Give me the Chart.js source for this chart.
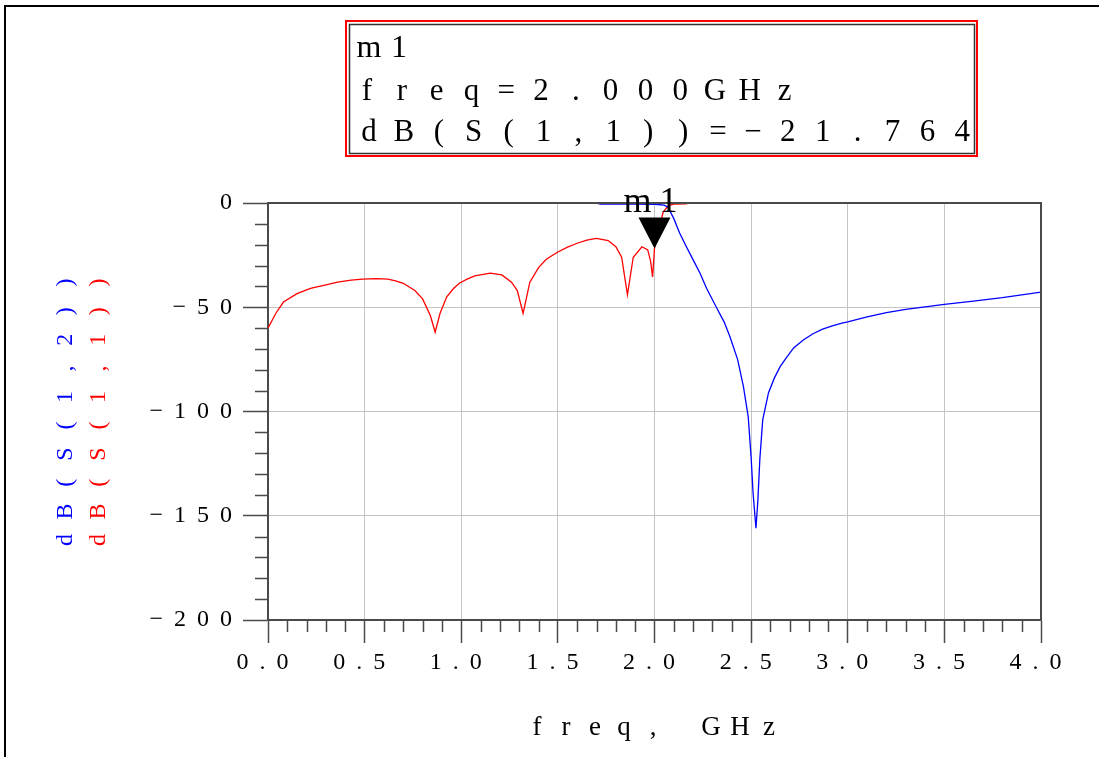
<!DOCTYPE html>
<html>
<head>
<meta charset="utf-8">
<script src="https://cdn.jsdelivr.net/npm/chart.js@4.4.1/dist/chart.umd.min.js"></script>
<style>
  html, body { margin: 0; padding: 0; background: #fff; }
  canvas { display: block; }
</style>
</head>
<body>
<canvas id="chart" width="1099" height="757"></canvas>
<script>
// dB(S(1,1)) - red trace
const s11Freq = [0, 0.04, 0.08, 0.15, 0.22, 0.30, 0.36, 0.43, 0.49, 0.56, 0.62, 0.66, 0.70, 0.76, 0.80,
  0.84, 0.865, 0.89, 0.925, 0.96, 0.99, 1.03, 1.07, 1.15, 1.21, 1.26, 1.29, 1.32, 1.355, 1.40, 1.44,
  1.50, 1.55, 1.60, 1.65, 1.70, 1.76, 1.80, 1.83, 1.86, 1.89, 1.935, 1.965, 1.98, 1.99, 2.0, 2.02,
  2.045, 2.07, 2.08, 2.1, 2.16, 2.18, 2.5, 3.0, 3.5, 4.0];
const s11Db = [-60, -53, -47.5, -43.5, -41, -39.3, -38, -37, -36.5, -36.3, -36.5, -37.3, -38.5, -42, -46,
  -54, -62, -53, -45, -41, -38.5, -36.5, -35, -33.6, -34.5, -38, -42, -53, -38, -31, -27,
  -23.5, -21.2, -19.3, -17.8, -17, -18, -21, -26, -44, -26, -21, -22.5, -28, -35.5, -21.764, -13,
  -4.3, -1.5, -1, -0.5, -0.4, 0, 0, 0, 0, 0];

// dB(S(1,2)) - blue trace
const s21Freq = [0, 0.5, 1.0, 1.5, 1.7, 1.72, 1.9, 2.0, 2.05, 2.07, 2.1, 2.13, 2.165, 2.2, 2.235, 2.27,
  2.32, 2.36, 2.39, 2.43, 2.46, 2.485, 2.5, 2.51, 2.525, 2.535, 2.545, 2.56, 2.59, 2.62, 2.65, 2.68,
  2.72, 2.77, 2.82, 2.87, 2.92, 2.97, 3.0, 3.1, 3.2, 3.3, 3.4, 3.5, 3.65, 3.8, 4.0];
const s21Db = [0, 0, 0, 0, 0, -0.5, -0.5, -0.6, -1, -2, -7.5, -14.4, -21, -27.3, -33.6, -41,
  -50, -57, -64, -75, -88, -102.6, -122, -139, -156, -142.5, -123, -104, -91, -84, -78.5, -74.5,
  -69.5, -65.7, -62.7, -60.5, -58.9, -57.6, -57, -54.6, -52.6, -51, -49.8, -48.6, -47.1, -45.4, -42.7];

const xTickLabels = ['0.0', '0.5', '1.0', '1.5', '2.0', '2.5', '3.0', '3.5', '4.0'];
const yTickLabels = ['\u2212200', '\u2212150', '\u2212100', '\u221250', '0'];

const markerFreq = 2.0;
const markerDb = -21.764;
const markerName = 'm1';
const markerLines = ['freq=2.000GHz', 'dB(S(1,1))=\u221221.764'];
const yLegend = ['dB(S(1,2))', 'dB(S(1,1))'];
const yLegendColors = ['#0000ff', '#ff0000'];
const xTitle = 'freq, GHz';

const axisColor = '#4a4a4a';
const serif = '"Liberation Serif", "DejaVu Serif", serif';

function toPoints(xs, ys) {
  return xs.map((x, i) => ({ x: x, y: ys[i] }));
}

// draws text one char at a time on a fixed pitch (ADS style spacing)
function spaced(ctx, text, x, y, pitch) {
  for (let i = 0; i < text.length; i++) {
    ctx.fillText(text[i], x + i * pitch, y);
  }
}

const adsDecor = {
  id: 'adsDecor',
  beforeDraw(chart) {
    chart.ctx.letterSpacing = '11px';
  },
  afterDatasetsDraw(chart) {
    const ctx = chart.ctx;
    const { left, right, top, bottom } = chart.chartArea;
    const xs = chart.scales.x;
    const ys = chart.scales.y;
    ctx.save();
    ctx.letterSpacing = '0px';

    // minor ticks
    ctx.strokeStyle = axisColor;
    ctx.lineWidth = 1.5;
    ctx.beginPath();
    for (let i = 0; i <= 40; i++) {
      if (i % 5 === 0) continue;
      const px = Math.round(xs.getPixelForValue(i / 10)) + 0.5;
      ctx.moveTo(px, bottom);
      ctx.lineTo(px, bottom + 12);
    }
    for (let v = -200; v <= 0; v += 10) {
      if (v % 50 === 0) continue;
      const py = Math.round(ys.getPixelForValue(v)) + 0.5;
      ctx.moveTo(left - 13, py);
      ctx.lineTo(left, py);
    }
    ctx.stroke();

    // top and right frame of the plot, over the 0 dB traces
    ctx.lineWidth = 2;
    ctx.beginPath();
    ctx.moveTo(left, top);
    ctx.lineTo(right, top);
    ctx.lineTo(right, bottom);
    ctx.stroke();

    // marker m1
    const mx = xs.getPixelForValue(markerFreq);
    const my = ys.getPixelForValue(markerDb);
    ctx.fillStyle = '#000';
    ctx.beginPath();
    ctx.moveTo(mx - 16, my - 31);
    ctx.lineTo(mx + 16, my - 31);
    ctx.lineTo(mx, my);
    ctx.closePath();
    ctx.fill();
    ctx.font = '36px ' + serif;
    ctx.textAlign = 'center';
    ctx.textBaseline = 'alphabetic';
    spaced(ctx, markerName, mx - 17, top + 9, 31);
    ctx.restore();
  },
  afterDraw(chart) {
    const ctx = chart.ctx;
    ctx.save();
    ctx.letterSpacing = '0px';

    // marker readout box
    ctx.strokeStyle = '#ff0000';
    ctx.lineWidth = 2;
    ctx.strokeRect(346, 21, 631, 135);
    ctx.strokeStyle = '#333';
    ctx.lineWidth = 1.5;
    ctx.strokeRect(349.5, 24.5, 625, 129);
    ctx.fillStyle = '#000';
    ctx.textAlign = 'center';
    ctx.textBaseline = 'alphabetic';
    ctx.font = '32px ' + serif;
    spaced(ctx, markerName, 369, 57, 30);
    ctx.font = '31px ' + serif;
    spaced(ctx, markerLines[0], 367, 100, 34.8);
    spaced(ctx, markerLines[1], 369, 141, 34.9);

    // y axis legend, rotated
    ctx.font = '24px ' + serif;
    const baseX = [72, 105];
    yLegend.forEach((txt, k) => {
      ctx.save();
      ctx.translate(baseX[k], 540);
      ctx.rotate(-Math.PI / 2);
      ctx.fillStyle = yLegendColors[k];
      spaced(ctx, txt, 0, 0, 28.6);
      ctx.restore();
    });

    // x axis title
    ctx.fillStyle = '#000';
    ctx.font = '27px ' + serif;
    spaced(ctx, xTitle, 537, 735, 29);

    // outer frame
    ctx.strokeStyle = '#000';
    ctx.lineWidth = 2;
    ctx.beginPath();
    ctx.moveTo(5, 757);
    ctx.lineTo(5, 6);
    ctx.lineTo(1099, 6);
    ctx.stroke();
    ctx.restore();
  }
};

new Chart(document.getElementById('chart'), {
  type: 'line',
  data: {
    datasets: [
      {
        label: 'dB(S(1,2))',
        data: toPoints(s21Freq, s21Db),
        borderColor: '#0000ff',
        borderWidth: 1.3,
        pointRadius: 0,
        tension: 0
      },
      {
        label: 'dB(S(1,1))',
        data: toPoints(s11Freq, s11Db),
        borderColor: '#ff0000',
        borderWidth: 1.3,
        pointRadius: 0,
        tension: 0
      }
    ]
  },
  options: {
    responsive: false,
    animation: false,
    layout: { padding: { left: 0, top: 203, right: 58, bottom: 0 } },
    plugins: { legend: { display: false }, tooltip: { enabled: false } },
    scales: {
      x: {
        type: 'linear',
        min: 0,
        max: 4,
        afterFit: s => { s.height = 137; },
        ticks: {
          stepSize: 0.5,
          color: '#000',
          font: { family: serif, size: 24 },
          padding: 5,
          maxRotation: 0,
          callback: (v, i) => xTickLabels[i]
        },
        grid: { color: '#c4c4c4', lineWidth: 1, tickLength: 23, tickColor: axisColor, tickWidth: 1.5 },
        border: { color: axisColor, width: 2 }
      },
      y: {
        type: 'linear',
        min: -200,
        max: 0,
        afterFit: s => { s.width = 268; },
        ticks: {
          stepSize: 50,
          color: '#000',
          font: { family: serif, size: 24 },
          padding: 0,
          callback: (v, i) => yTickLabels[i]
        },
        grid: { color: '#c4c4c4', lineWidth: 1, tickLength: 25, tickColor: axisColor, tickWidth: 1.5 },
        border: { color: axisColor, width: 2 }
      }
    }
  },
  plugins: [adsDecor]
});
</script>
</body>
</html>
